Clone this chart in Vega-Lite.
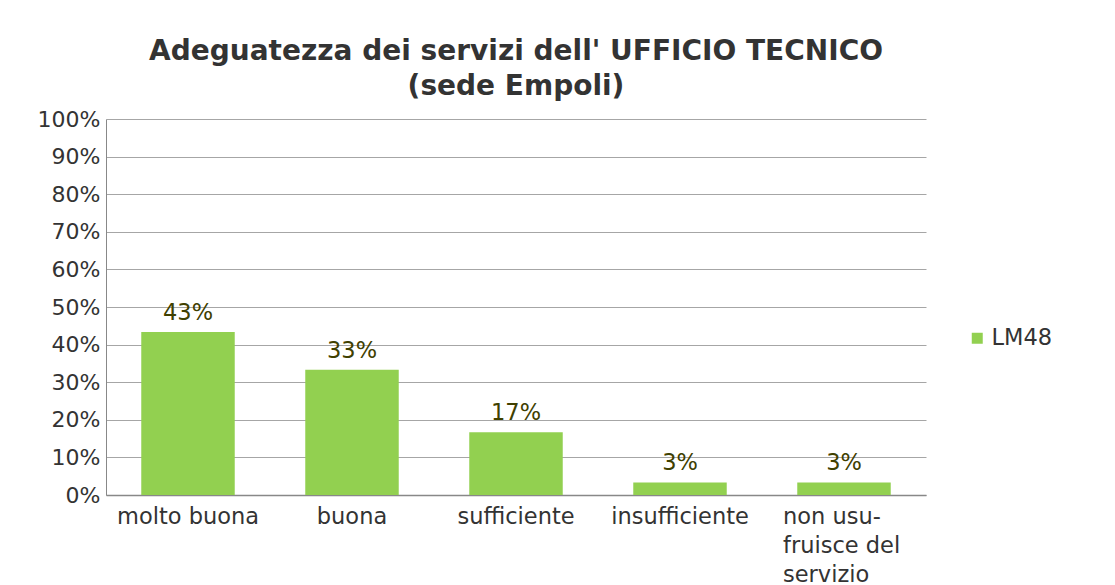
{
  "$schema": "https://vega.github.io/schema/vega-lite/v6.json",
  "autosize": {"type": "none"},
  "width": 820,
  "height": 376,
  "padding": {"left": 106, "top": 119, "right": 189, "bottom": 90},
  "background": "white",
  "title": {
    "text": ["Adeguatezza dei servizi dell' UFFICIO TECNICO", "(sede Empoli)"],
    "font": "DejaVu Sans",
    "fontSize": 28,
    "fontWeight": "bold",
    "color": "#333333",
    "anchor": "middle",
    "lineHeight": 35,
    "offset": 7
  },
  "data": {
    "values": [
      {"categoria": "molto buona", "serie": "LM48", "valore": 0.4333},
      {"categoria": "buona", "serie": "LM48", "valore": 0.3333},
      {"categoria": "sufficiente", "serie": "LM48", "valore": 0.1667},
      {"categoria": "insufficiente", "serie": "LM48", "valore": 0.0333},
      {"categoria": "non usufruisce del servizio", "serie": "LM48", "valore": 0.0333}
    ]
  },
  "encoding": {
    "x": {
      "field": "categoria",
      "type": "nominal",
      "sort": null,
      "scale": {"paddingInner": 0.43, "paddingOuter": 0.215},
      "axis": {
        "title": null,
        "labelAngle": 0,
        "labelFont": "DejaVu Sans",
        "labelFontSize": 22.5,
        "labelColor": "#333333",
        "labelPadding": 10,
        "labelLineHeight": 29,
        "labelLimit": 0,
        "labelOverlap": false,
        "labelAlign": {"condition": {"test": "datum.value == 'non usufruisce del servizio'", "value": "left"}, "value": "center"},
        "labelOffset": {"condition": {"test": "datum.value == 'non usufruisce del servizio'", "value": -61}, "value": 0},
        "labelExpr": "datum.value == 'non usufruisce del servizio' ? ['non usu-', 'fruisce del', 'servizio'] : datum.value",
        "ticks": false,
        "domainColor": "#888888",
        "domainWidth": 1.5
      }
    },
    "y": {
      "field": "valore",
      "type": "quantitative",
      "scale": {"domain": [0, 1], "nice": false},
      "axis": {
        "title": null,
        "format": ".0%",
        "values": [0, 0.1, 0.2, 0.3, 0.4, 0.5, 0.6, 0.7, 0.8, 0.9, 1],
        "labelOverlap": false,
        "labelFont": "DejaVu Sans",
        "labelFontSize": 22,
        "labelColor": "#333333",
        "labelPadding": 6,
        "ticks": false,
        "domainColor": "#888888",
        "gridColor": "#a6a6a6",
        "gridWidth": 1
      }
    }
  },
  "layer": [
    {
      "mark": {"type": "bar"},
      "encoding": {
        "color": {
          "field": "serie",
          "type": "nominal",
          "scale": {"range": ["#92D050"]},
          "legend": {
            "title": null,
            "orient": "none",
            "legendX": 860,
            "legendY": 208,
            "symbolType": "square",
            "symbolSize": 121,
            "symbolStrokeWidth": 0,
            "labelFont": "DejaVu Sans",
            "labelFontSize": 22.5,
            "labelColor": "#333333",
            "labelOffset": 3
          }
        }
      }
    },
    {
      "mark": {
        "type": "text",
        "baseline": "bottom",
        "dy": -7,
        "font": "DejaVu Sans",
        "fontSize": 22.5,
        "color": "#404000"
      },
      "encoding": {
        "text": {"field": "valore", "type": "quantitative", "format": ".0%"}
      }
    }
  ],
  "config": {
    "view": {"stroke": null}
  }
}
